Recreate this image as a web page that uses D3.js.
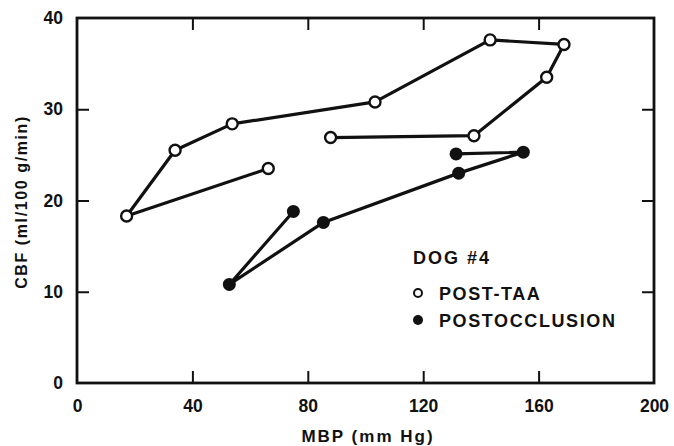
<!DOCTYPE html>
<html>
<head>
<meta charset="utf-8">
<script src="https://cdn.jsdelivr.net/npm/d3@7"></script>
<style>
  html, body { margin: 0; padding: 0; background: #fff; }
  svg { display: block; }
  text { font-family: "Liberation Sans", Arial, sans-serif; font-weight: bold; fill: #111; }
</style>
</head>
<body>
<script>
// Data
const postTaaMBP = [66.3, 17.2, 34.0, 53.8, 103.3, 143.2, 168.8, 162.8, 137.6, 87.9];
const postTaaCBF = [23.5, 18.3, 25.5, 28.4, 30.8, 37.6, 37.1, 33.5, 27.1, 26.9];
const postOcclMBP = [75.0, 52.8, 85.4, 132.3, 154.7, 131.4];
const postOcclCBF = [18.8, 10.8, 17.6, 23.0, 25.3, 25.1];
const xTicks = [0, 40, 80, 120, 160, 200];
const yTicks = [0, 10, 20, 30, 40];
const legendTitle = "DOG #4";
const seriesNames = ["POST-TAA", "POSTOCCLUSION"];
const xTitle = "MBP (mm Hg)";
const yTitle = "CBF (ml/100 g/min)";

(function () {
const W = 674, H = 446;
const svg = d3.select("body").append("svg").attr("width", W).attr("height", H);

const x = d3.scaleLinear().domain([0, 200]).range([77, 654]);
const y = d3.scaleLinear().domain([0, 40]).range([383, 18]);

const ink = "#111";
const tickLen = 12;

// Frame
svg.append("rect")
  .attr("x", x(0)).attr("y", y(40))
  .attr("width", x(200) - x(0)).attr("height", y(0) - y(40))
  .attr("fill", "none").attr("stroke", ink).attr("stroke-width", 2.8);

// Axes with inward ticks on all sides
const gBottom = svg.append("g").attr("transform", `translate(0,${y(0)})`)
  .call(d3.axisBottom(x).tickValues(xTicks).tickSizeInner(-tickLen).tickSizeOuter(0).tickPadding(17).tickFormat(d3.format("d")));
const gLeft = svg.append("g").attr("transform", `translate(${x(0)},0)`)
  .call(d3.axisLeft(y).tickValues(yTicks).tickSizeInner(-tickLen).tickSizeOuter(0).tickPadding(14).tickFormat(d3.format("d")));
const gTop = svg.append("g").attr("transform", `translate(0,${y(40)})`)
  .call(d3.axisTop(x).tickValues(xTicks.slice(1, -1)).tickSizeInner(-tickLen).tickSizeOuter(0).tickFormat(""));
const gRight = svg.append("g").attr("transform", `translate(${x(200)},0)`)
  .call(d3.axisRight(y).tickValues(yTicks.slice(1, -1)).tickSizeInner(-tickLen).tickSizeOuter(0).tickFormat(""));

[gBottom, gLeft, gTop, gRight].forEach(g => {
  g.select(".domain").remove();
  g.selectAll(".tick line").attr("stroke", ink).attr("stroke-width", 2);
  g.selectAll(".tick text").attr("font-size", 17.5).attr("font-family", "Liberation Sans, Arial, sans-serif")
    .attr("font-weight", "bold").attr("fill", ink);
});
gBottom.selectAll(".tick").filter(d => d === 0 || d === 200).select("line").remove();
gLeft.selectAll(".tick").filter(d => d === 0 || d === 40).select("line").remove();

// Axis titles
svg.append("text").attr("x", 368).attr("y", 442).attr("text-anchor", "middle")
  .attr("font-size", 17).attr("letter-spacing", 2).text(xTitle);
svg.append("text").attr("transform", `translate(27,202) rotate(-90)`).attr("text-anchor", "middle")
  .attr("font-size", 16).attr("letter-spacing", 1.6).text(yTitle);

// Lines
const line = d3.line().x(d => x(d[0])).y(d => y(d[1]));
const taa = postTaaMBP.map((v, i) => [v, postTaaCBF[i]]);
const occ = postOcclMBP.map((v, i) => [v, postOcclCBF[i]]);

svg.append("path").datum(taa).attr("d", line).attr("fill", "none").attr("stroke", ink).attr("stroke-width", 3.2).attr("stroke-linejoin", "round");
svg.append("path").datum(occ).attr("d", line).attr("fill", "none").attr("stroke", ink).attr("stroke-width", 3.2).attr("stroke-linejoin", "round");

svg.selectAll("circle.taa").data(taa).enter().append("circle").attr("class", "taa")
  .attr("cx", d => x(d[0])).attr("cy", d => y(d[1])).attr("r", 5.5)
  .attr("fill", "#fff").attr("stroke", ink).attr("stroke-width", 2.4);
svg.selectAll("circle.occ").data(occ).enter().append("circle").attr("class", "occ")
  .attr("cx", d => x(d[0])).attr("cy", d => y(d[1])).attr("r", 6.5)
  .attr("fill", ink);

// Legend
const lg = svg.append("g");
lg.append("text").attr("x", 413).attr("y", 264).attr("font-size", 18).attr("letter-spacing", 2).text(legendTitle);
lg.append("circle").attr("cx", 418).attr("cy", 293).attr("r", 4).attr("fill", "#fff").attr("stroke", ink).attr("stroke-width", 2);
lg.append("text").attr("x", 439).attr("y", 300).attr("font-size", 18).attr("letter-spacing", 1.6).text(seriesNames[0]);
lg.append("circle").attr("cx", 418).attr("cy", 320).attr("r", 5).attr("fill", ink);
lg.append("text").attr("x", 439).attr("y", 327).attr("font-size", 18).attr("letter-spacing", 1.6).text(seriesNames[1]);
})();
</script>
</body>
</html>
